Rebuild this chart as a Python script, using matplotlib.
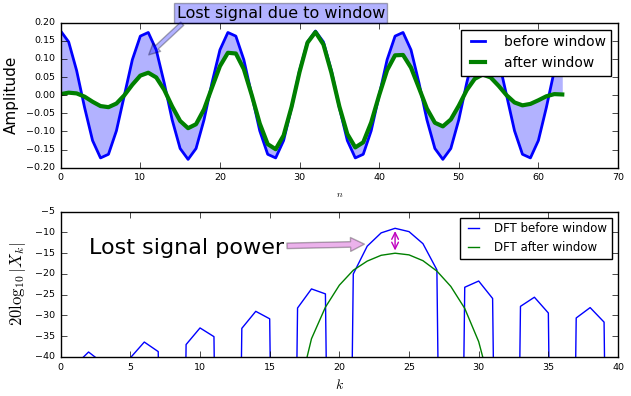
import matplotlib
matplotlib.use('Agg')
import matplotlib.pyplot as plt
import numpy as np

# time-domain samples, n = 0..63
n = np.arange(64)
half_cycle = [0.177, 0.147, 0.068, -0.034, -0.125, -0.173, -0.163, -0.098,
              0.0, 0.098, 0.163, 0.173, 0.125, 0.034, -0.068, -0.147,
              -0.177, -0.147, -0.068, 0.034, 0.125, 0.173, 0.163, 0.098,
              0.0, -0.098, -0.163, -0.173, -0.125, -0.034, 0.068, 0.147]
before = half_cycle + half_cycle
after = [0.003, 0.007, 0.005, -0.004, -0.018, -0.030, -0.033, -0.023,
         0.0, 0.029, 0.054, 0.062, 0.049, 0.015, -0.031, -0.071,
         -0.091, -0.080, -0.039, 0.021, 0.080, 0.117, 0.115, 0.072,
         0.0, -0.078, -0.135, -0.149, -0.111, -0.032, 0.064, 0.145,
         0.174, 0.140, 0.062, -0.031, -0.107, -0.144, -0.130, -0.075,
         0.0, 0.069, 0.110, 0.111, 0.076, 0.020, -0.037, -0.076,
         -0.086, -0.067, -0.029, 0.014, 0.045, 0.057, 0.049, 0.026,
         0.0, -0.020, -0.028, -0.024, -0.014, -0.003, 0.003, 0.002]

# DFT magnitudes in dB, k = 0..40 (-300 marks the nulls)
k = np.arange(41)
dft_before = [-300, -42.1, -38.8, -41.4, -300, -40.2, -36.4, -38.7,
              -300, -37.0, -33.0, -35.1, -300, -33.1, -29.0, -30.8,
              -300, -28.2, -23.6, -24.8, -300, -20.0, -13.3, -10.1,
              -9.0, -9.8, -12.7, -19.0, -300, -23.2, -21.7, -25.9,
              -300, -27.8, -25.6, -29.4, -300, -30.6, -28.1, -31.6, -300]
dft_after = [-300, -62.8, -50.9, -44.8, -42.0, -41.9, -44.9, -53.7,
             -300, -53.7, -44.9, -41.9, -42.0, -44.8, -50.9, -62.8,
             -300, -49.5, -35.6, -28.0, -22.7, -19.1, -16.9, -15.5,
             -15.0, -15.4, -16.8, -19.3, -23.0, -28.3, -36.3, -49.0,
             -300, -62.8, -50.9, -44.8, -42.0, -41.9, -44.9, -53.7, -300]

plt.style.use('classic')
plt.rcParams['figure.facecolor'] = 'white'
plt.rcParams['savefig.facecolor'] = 'white'

fig = plt.figure(figsize=(6.31, 3.96), dpi=100)
ax1 = fig.add_axes([0.0962, 0.5765, 0.8832, 0.3662])
ax2 = fig.add_axes([0.0962, 0.0985, 0.8832, 0.3669])

ax1.plot(n, before, 'b', lw=2, label='before window')
ax1.plot(n, after, 'g', lw=3, label='after window')
ax1.fill_between(n, before, after, color='b', alpha=0.3, lw=0)
ax1.set_xlim(0, 70)
ax1.set_ylim(-0.2, 0.2)
ax1.set_ylabel('Amplitude', fontsize=11)
ax1.set_xlabel('$n$', fontsize=7)
ax1.tick_params(labelsize=6.8)
ax1.legend(loc='upper right', fontsize=10, handlelength=1.65, handletextpad=1.0)
ax1.annotate('Lost signal due to window', xy=(10.8, 0.106), xytext=(14.55, 0.226),
             fontsize=11.5, va='center', annotation_clip=False,
             bbox=dict(boxstyle='square,pad=0.15', fc='b', alpha=0.3),
             arrowprops=dict(arrowstyle='simple', fc='b', alpha=0.3,
                             mutation_scale=16, relpos=(0.05, 0.1), shrinkA=0))

ax2.plot(k, dft_before, 'b', lw=1, label='DFT before window')
ax2.plot(k, dft_after, 'g', lw=1, label='DFT after window')
ax2.set_xlim(0, 40)
ax2.set_ylim(-40, -5)
ax2.set_ylabel(r'$20\log_{10}|X_k|$', fontsize=12)
ax2.set_xlabel('$k$', fontsize=10)
ax2.tick_params(labelsize=6.8)
ax2.legend(loc='upper right', fontsize=8.5, handlelength=1.55, handletextpad=1.0)
ax2.annotate('Lost signal power', xy=(22, -12.8), xytext=(2, -15.2),
             fontsize=16,
             arrowprops=dict(arrowstyle='simple', fc='m', alpha=0.3,
                             mutation_scale=20, shrinkA=0))
ax2.annotate('', xy=(24, -9.0), xytext=(24, -15.0),
             arrowprops=dict(arrowstyle='<->', color='m'))

fig.savefig('out.png', dpi=100)
